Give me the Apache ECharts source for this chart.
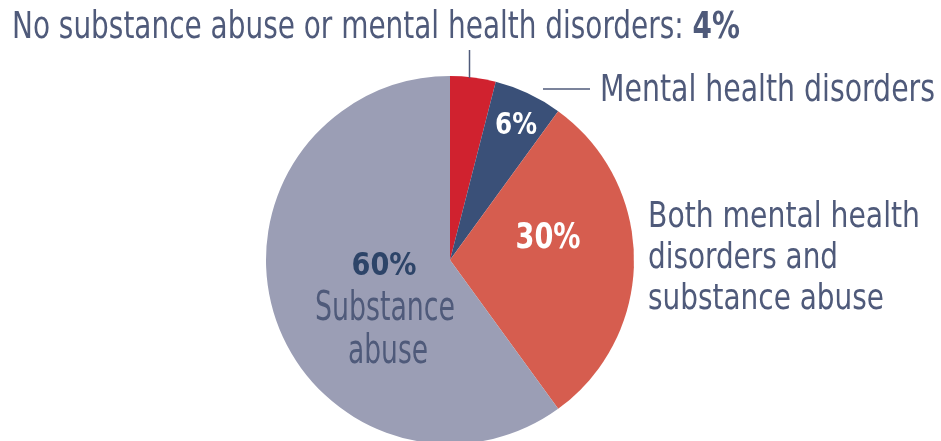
<!DOCTYPE html>
<html><head><meta charset="utf-8">
<script src="https://cdn.jsdelivr.net/npm/echarts@6/dist/echarts.min.js"></script>
<style>html,body{margin:0;padding:0;background:#fff}#c{width:941px;height:441px}</style>
</head><body><div id="c"></div>
<script>
const categories = ["No substance abuse or mental health disorders", "Mental health disorders", "Both mental health disorders and substance abuse", "Substance abuse"];
const values = [4, 6, 30, 60];
const colors = ["#d0222f", "#3a5078", "#d65d4f", "#9b9eb5"];
const bothLines = ["Both mental health", "disorders and", "substance abuse"];
const subLines = ["Substance", "abuse"];

const FAMILY = "'DejaVu Sans Condensed', 'DejaVu Sans', sans-serif";
const TXT = "#4f5a7a";
const ctx = document.createElement('canvas').getContext('2d');
function measure(text, size, weight) {
  ctx.font = (weight || 'normal') + ' ' + size + 'px ' + FAMILY;
  return ctx.measureText(text).width;
}
// text fitted to a target width (condensed look)
function T(text, x, y, size, width, opts) {
  opts = opts || {};
  const w = measure(text, size, opts.weight);
  return {
    type: 'text', x: x, y: y, z: 100, scaleX: width / w, scaleY: 1,
    style: {
      text: text, fontFamily: FAMILY, fontSize: size, fontWeight: opts.weight || 'normal',
      fill: opts.fill || TXT, align: opts.align || 'left', verticalAlign: 'middle'
    }
  };
}

const title = categories[0] + ': ';
const tSize = 37;
const titleW = measure(title, tSize);
const pctW = measure(values[0] + '%', tSize, 'bold');
const sc = 728 / (titleW + pctW);

const chart = echarts.init(document.getElementById('c'));
chart.setOption({
  animation: false,
  series: [{
    type: 'pie',
    center: [450, 260],
    radius: [0, 184],
    startAngle: 90,
    clockwise: true,
    silent: true,
    label: { show: false },
    labelLine: { show: false },
    itemStyle: { borderWidth: 0 },
    data: categories.map((c, i) => ({ name: c, value: values[i], itemStyle: { color: colors[i] } }))
  }],
  graphic: [
    T(title, 12, 28, tSize, titleW * sc),
    T(values[0] + '%', 12 + titleW * sc, 28, tSize, pctW * sc, { weight: 'bold' }),
    { type: 'line', z: 100, shape: { x1: 469.5, y1: 50, x2: 469.5, y2: 78 }, style: { stroke: '#4f5a7a', lineWidth: 1.5 } },
    { type: 'line', z: 100, shape: { x1: 543, y1: 89, x2: 590, y2: 89 }, style: { stroke: '#4f5a7a', lineWidth: 1.5 } },
    T(categories[1], 600, 91, 38, 335),
    T(values[1] + '%', 516, 126, 30, 42, { weight: 'bold', fill: '#ffffff', align: 'center' }),
    T(values[2] + '%', 548, 239, 36, 65, { weight: 'bold', fill: '#ffffff', align: 'center' }),
    T(bothLines[0], 648, 218, 36, 272),
    T(bothLines[1], 648, 259, 36, 190),
    T(bothLines[2], 648, 300, 36, 236),
    T(values[3] + '%', 384, 267, 32, 65, { weight: 'bold', fill: '#2d4468', align: 'center' }),
    T(subLines[0], 385, 310, 40, 140, { align: 'center' }),
    T(subLines[1], 388, 353, 40, 80, { align: 'center' })
  ]
});
</script></body></html>
